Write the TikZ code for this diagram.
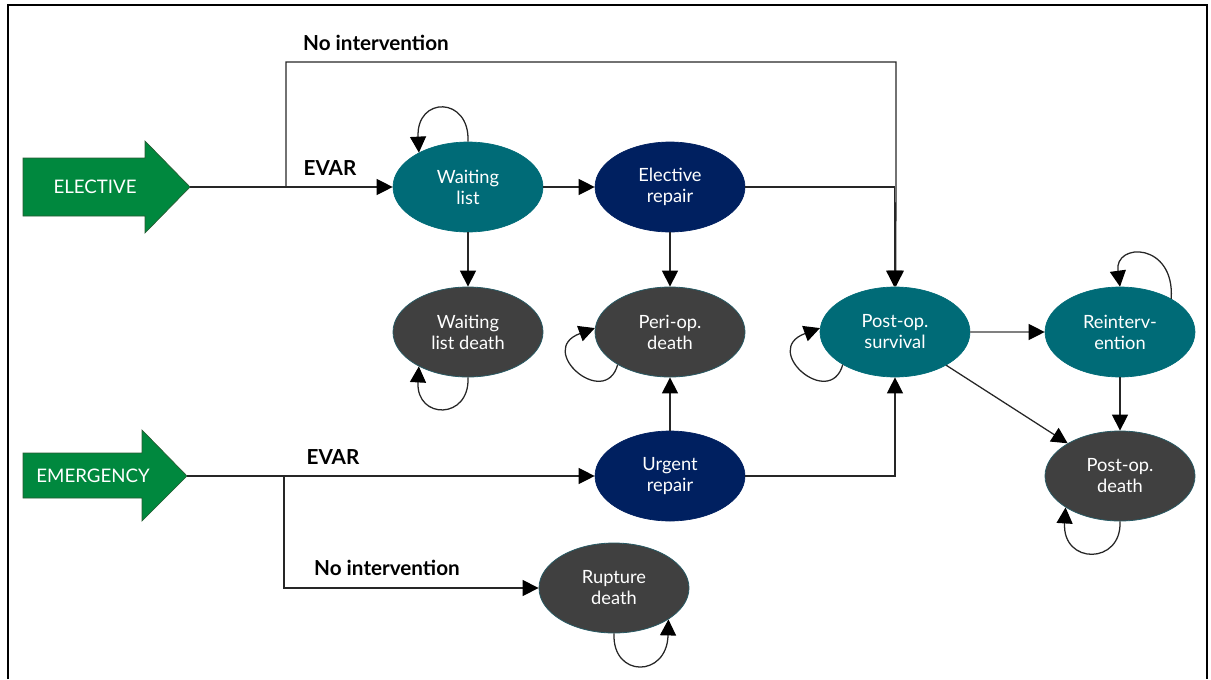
\documentclass[tikz,border=0pt]{standalone}
\usepackage{fontspec}
\setmainfont{Lato}
\usetikzlibrary{shapes.geometric,arrows.meta}
\definecolor{cteal}{RGB}{0,107,119}
\definecolor{cnavy}{RGB}{0,32,96}
\definecolor{cgray}{RGB}{64,64,64}
\definecolor{cgreen}{RGB}{0,136,62}
\definecolor{cgreenedge}{RGB}{40,90,50}
\definecolor{cedge}{RGB}{40,90,100}
\begin{document}
\begin{tikzpicture}[x=0.75pt,y=-0.75pt,
  state/.style={ellipse, minimum width=112.5pt, minimum height=67.5pt, inner sep=0pt, text=white, align=center, font=\fontsize{13.7}{15.75}\selectfont},
  tealst/.style={state, fill=cteal, draw=cteal, line width=0.5pt},
  navyst/.style={state, fill=cnavy, draw=cnavy, line width=0.5pt},
  grayst/.style={state, fill=cgray, draw=cedge, line width=0.6pt},
  conn/.style={line width=0.95pt, draw=black!85},
  arr/.style={conn, -{Triangle[length=12pt,width=12pt,color=black]}},
  lbl/.style={font=\fontsize{15.5}{17}\selectfont\bfseries, inner sep=0pt},
  bigarrow/.style={fill=cgreen, draw=cgreenedge, line width=0.5pt},
  arrtxt/.style={text=white, font=\fontsize{14}{16}\selectfont, inner sep=0pt}
]
\useasboundingbox (0,0) rectangle (1211,679);
\draw[line width=1.5pt] (8,679) -- (8,5) -- (1207,5) -- (1207,679);

% entry arrows
\draw[bigarrow] (23,158) -- (145,158) -- (145,141) -- (190,187) -- (145,233) -- (145,216) -- (23,216) -- cycle;
\node[arrtxt] (elt) at (95,187) {ELECTIVE};
\coordinate (elp) at (190,187);
\draw[bigarrow] (23,453) -- (142,453) -- (142,430) -- (187,476) -- (142,521) -- (142,498) -- (23,498) -- cycle;
\node[arrtxt] (emt) at (93,476) {EMERGENCY};
\coordinate (emp) at (187,476);

% states
\node[tealst] (wl) at (468,187) {Waiting\\list};
\node[navyst] (er) at (670,187) {Elective\\repair};
\node[grayst] (wld) at (468,332) {Waiting\\list death};
\node[grayst] (pd) at (670,332) {Peri-op.\\death};
\node[navyst] (ur) at (670,476) {Urgent\\repair};
\node[tealst] (ps) at (895,332) {Post-op.\\survival};
\node[tealst] (ri) at (1120,332) {Reinterv-\\ention};
\node[grayst] (pod) at (1120,476) {Post-op.\\death};
\node[grayst] (rd) at (614,588) {Rupture\\death};

% connectors
\coordinate (b1) at (286,187);
\coordinate (t1) at (896,62);
\coordinate (b2) at (284,476);
\draw[arr] (elp) -- (wl.west);
\draw[arr] (b1) |- (t1) -- ([xshift=0.6pt]ps.north);
\draw[arr] (wl.east) -- (er.west);
\draw[arr] (er.east) -| ([xshift=-0.6pt]ps.north);
\draw[arr] (wl.south) -- (wld.north);
\draw[arr] (er.south) -- (pd.north);
\draw[arr] (ur.north) -- (pd.south);
\draw[arr] (emp) -- (ur.west);
\draw[arr] (b2) |- (rd.west);
\draw[arr] (ur.east) -| (ps.south);
\draw[arr, draw=gray] (ps.east) -- (ri.west);
\draw[arr] (ps.327) -- (pod.148);
\draw[arr] (ri.south) -- (pod.north);

% self loops
\draw[arr] (wl.north) .. controls (470,96) and (416,96) .. (wl.145);
\draw[arr] (wld.south) .. controls (470,420) and (416,420) .. (wld.215);
\draw[arr] (pd.212) .. controls (605,410) and (535,350) .. (pd.177);
\draw[arr] (ps.212) .. controls (830,410) and (760,350) .. (ps.177);
\draw[arr] (ri.33) .. controls (1175,242) and (1114,242) .. (ri.north);
\draw[arr] (pod.south) .. controls (1122,565) and (1062,565) .. (pod.210);
\draw[arr] (rd.south) .. controls (612,678) and (667,678) .. (rd.330);

% labels
\node[lbl] (l1) at (376,43) {No intervention};
\node[lbl] (l2) at (330,168) {EVAR};
\node[lbl] (l3) at (333,457) {EVAR};
\node[lbl] (l4) at (387,568) {No intervention};
\end{tikzpicture}
\end{document}
